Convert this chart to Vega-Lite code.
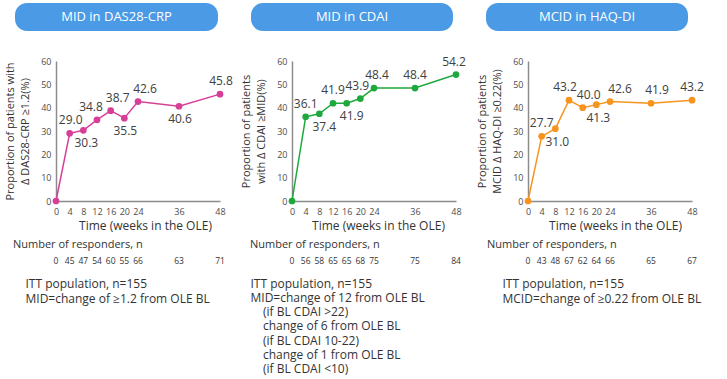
{
  "$schema": "https://vega.github.io/schema/vega-lite/v6.json",
  "padding": {"left": 4, "top": 3, "right": 4, "bottom": 4},
  "background": "white",
  "config": {
    "view": {"stroke": null},
    "font": "Open Sans",
    "axis": {"grid": false, "ticks": false, "domainColor": "#8c8c8c", "domainWidth": 1.5, "labelColor": "#4d4d4d", "labelFontSize": 9, "titleColor": "#333333", "titleFontWeight": "normal", "labelFont": "Open Sans", "titleFont": "Open Sans"},
    "title": {"fontWeight": "normal", "color": "#333333", "font": "Open Sans"}
  },
  "datasets": {
    "rows": [
      {"panel": "DAS", "week": 0, "pct": 0, "n": 0},
      {"panel": "DAS", "week": 4, "pct": 29.0, "n": 45},
      {"panel": "DAS", "week": 8, "pct": 30.3, "n": 47},
      {"panel": "DAS", "week": 12, "pct": 34.8, "n": 54},
      {"panel": "DAS", "week": 16, "pct": 38.7, "n": 60},
      {"panel": "DAS", "week": 20, "pct": 35.5, "n": 55},
      {"panel": "DAS", "week": 24, "pct": 42.6, "n": 66},
      {"panel": "DAS", "week": 36, "pct": 40.6, "n": 63},
      {"panel": "DAS", "week": 48, "pct": 45.8, "n": 71},
      {"panel": "CDAI", "week": 0, "pct": 0, "n": 0},
      {"panel": "CDAI", "week": 4, "pct": 36.1, "n": 56},
      {"panel": "CDAI", "week": 8, "pct": 37.4, "n": 58},
      {"panel": "CDAI", "week": 12, "pct": 41.9, "n": 65},
      {"panel": "CDAI", "week": 16, "pct": 41.9, "n": 65},
      {"panel": "CDAI", "week": 20, "pct": 43.9, "n": 68},
      {"panel": "CDAI", "week": 24, "pct": 48.4, "n": 75},
      {"panel": "CDAI", "week": 36, "pct": 48.4, "n": 75},
      {"panel": "CDAI", "week": 48, "pct": 54.2, "n": 84},
      {"panel": "HAQ", "week": 0, "pct": 0, "n": 0},
      {"panel": "HAQ", "week": 4, "pct": 27.7, "n": 43},
      {"panel": "HAQ", "week": 8, "pct": 31.0, "n": 48},
      {"panel": "HAQ", "week": 12, "pct": 43.2, "n": 67},
      {"panel": "HAQ", "week": 16, "pct": 40.0, "n": 62},
      {"panel": "HAQ", "week": 20, "pct": 41.3, "n": 64},
      {"panel": "HAQ", "week": 24, "pct": 42.6, "n": 66},
      {"panel": "HAQ", "week": 36, "pct": 41.9, "n": 65},
      {"panel": "HAQ", "week": 48, "pct": 43.2, "n": 67}
    ]
  },
  "spacing": 24,
  "vconcat": [
    {
      "spacing": 33,
      "bounds": "flush",
      "hconcat": [
        {"width": 203, "height": 28, "data": {"values": [{"label": "MID in DAS28-CRP"}]},
         "layer": [
           {"mark": {"type": "rect", "color": "#4a9ae6", "cornerRadius": 12}, "encoding": {}},
           {"mark": {"type": "text", "color": "white", "fontSize": 13}, "encoding": {"text": {"field": "label"}}}
         ]},
        {"width": 202, "height": 28, "data": {"values": [{"label": "MID in CDAI"}]},
         "layer": [
           {"mark": {"type": "rect", "color": "#4a9ae6", "cornerRadius": 12}, "encoding": {}},
           {"mark": {"type": "text", "color": "white", "fontSize": 13}, "encoding": {"text": {"field": "label"}}}
         ]},
        {"width": 202, "height": 28, "data": {"values": [{"label": "MCID in HAQ-DI"}]},
         "layer": [
           {"mark": {"type": "rect", "color": "#4a9ae6", "cornerRadius": 12}, "encoding": {}},
           {"mark": {"type": "text", "color": "white", "fontSize": 13}, "encoding": {"text": {"field": "label"}}}
         ]}
      ]
    },
    {
      "columns": 3,
      "spacing": {"row": 54, "column": 31},
      "bounds": "flush",
      "concat": [
        {
          "width": 205, "height": 140,
          "data": {"name": "rows"},
          "transform": [{"filter": "datum.panel == 'DAS'"}],
          "encoding": {
            "x": {"field": "week", "type": "quantitative", "scale": {"domain": [0, 48], "nice": false, "range": [41, 205]},
                  "axis": {"values": [0, 4, 8, 12, 16, 20, 24, 36, 48], "labelFlush": false, "title": "Time (weeks in the OLE)", "titleFontSize": 12, "labelPadding": 6, "titlePadding": 4, "titleX": 130}},
            "y": {"field": "pct", "type": "quantitative", "scale": {"domain": [0, 60], "nice": false},
                  "axis": {"offset": -41, "values": [0, 10, 20, 30, 40, 50, 60], "title": ["Proportion of patients with", "Δ DAS28-CRP ≥1.2(%)"], "titleFontSize": 11, "labelPadding": 5, "titlePadding": 10, "titleLineHeight": 15}}
          },
          "layer": [
            {"mark": {"type": "line", "color": "#d63f97", "strokeWidth": 1.5}},
            {"mark": {"type": "point", "filled": true, "size": 45, "opacity": 1, "color": "#d63f97"}},
            {"transform": [{"filter": "datum.week > 0"}],
             "mark": {"type": "text", "fontSize": 12, "color": "#404040",
                      "dy": {"expr": "indexof([8, 20, 36], datum.week) >= 0 ? 13 : -13"},
                      "dx": {"expr": "datum.week == 12 ? -6 : (datum.week == 16 || datum.week == 24) ? 7 : (datum.week == 8 ? 3 : 1)"}},
             "encoding": {"text": {"field": "pct", "format": ".1f"}}}
          ]
        },
        {
          "width": 205, "height": 140,
          "data": {"name": "rows"},
          "transform": [{"filter": "datum.panel == 'CDAI'"}],
          "encoding": {
            "x": {"field": "week", "type": "quantitative", "scale": {"domain": [0, 48], "nice": false, "range": [41, 205]},
                  "axis": {"values": [0, 4, 8, 12, 16, 20, 24, 36, 48], "labelFlush": false, "title": "Time (weeks in the OLE)", "titleFontSize": 12, "labelPadding": 6, "titlePadding": 4, "titleX": 127}},
            "y": {"field": "pct", "type": "quantitative", "scale": {"domain": [0, 60], "nice": false},
                  "axis": {"offset": -41, "values": [0, 10, 20, 30, 40, 50, 60], "title": ["Proportion of patients", "with Δ CDAI ≥MID(%)"], "titleFontSize": 11, "labelPadding": 5, "titlePadding": 10, "titleLineHeight": 15}}
          },
          "layer": [
            {"mark": {"type": "line", "color": "#1fa83c", "strokeWidth": 1.5}},
            {"mark": {"type": "point", "filled": true, "size": 45, "opacity": 1, "color": "#1fa83c"}},
            {"transform": [{"filter": "datum.week > 0"}],
             "mark": {"type": "text", "fontSize": 12, "color": "#404040",
                      "dy": {"expr": "indexof([8, 16], datum.week) >= 0 ? 13 : -13"},
                      "dx": {"expr": "indexof([8, 16], datum.week) >= 0 ? 5 : datum.week == 20 ? -3 : datum.week == 24 ? 3 : datum.week == 48 ? -2 : 0"}},
             "encoding": {"text": {"field": "pct", "format": ".1f"}}}
          ]
        },
        {
          "width": 205, "height": 140,
          "data": {"name": "rows"},
          "transform": [{"filter": "datum.panel == 'HAQ'"}],
          "encoding": {
            "x": {"field": "week", "type": "quantitative", "scale": {"domain": [0, 48], "nice": false, "range": [41, 205]},
                  "axis": {"values": [0, 4, 8, 12, 16, 20, 24, 36, 48], "labelFlush": false, "title": "Time (weeks in the OLE)", "titleFontSize": 12, "labelPadding": 6, "titlePadding": 4, "titleX": 128}},
            "y": {"field": "pct", "type": "quantitative", "scale": {"domain": [0, 60], "nice": false},
                  "axis": {"offset": -41, "values": [0, 10, 20, 30, 40, 50, 60], "title": ["Proportion of patients", "MCID Δ HAQ-DI ≥0.22(%)"], "titleFontSize": 11, "labelPadding": 5, "titlePadding": 10, "titleLineHeight": 15}}
          },
          "layer": [
            {"mark": {"type": "line", "color": "#f7941d", "strokeWidth": 1.5}},
            {"mark": {"type": "point", "filled": true, "size": 45, "opacity": 1, "color": "#f7941d"}},
            {"transform": [{"filter": "datum.week > 0"}],
             "mark": {"type": "text", "fontSize": 12, "color": "#404040",
                      "dy": {"expr": "indexof([8, 20], datum.week) >= 0 ? 13 : -13"},
                      "dx": {"expr": "datum.week == 12 ? -4 : datum.week == 16 ? 6 : datum.week == 24 ? 10 : datum.week == 36 ? 6 : (datum.week == 8 || datum.week == 20) ? 2 : 0"}},
             "encoding": {"text": {"field": "pct", "format": ".1f"}}}
          ]
        },
        {
          "width": 205, "height": 12,
          "data": {"name": "rows"},
          "transform": [{"filter": "datum.panel == 'DAS'"}],
          "title": {"text": "Number of responders, n", "anchor": "start", "frame": "group", "orient": "top", "dx": -2, "offset": 5, "fontSize": 11},
          "mark": {"type": "text", "fontSize": 8.5, "color": "#333333"},
          "encoding": {
            "x": {"field": "week", "type": "quantitative", "scale": {"domain": [0, 48], "nice": false, "range": [41, 205]},
                  "axis": {"domain": false, "labels": false, "ticks": false, "title": ["ITT population, n=155", "MID=change of ≥1.2 from OLE BL"], "titleAnchor": "start", "titleAlign": "left", "titleX": 10, "titleY": 11, "titleBaseline": "top", "titleFontSize": 12, "titleLineHeight": 15}},
            "text": {"field": "n"}
          }
        },
        {
          "width": 205, "height": 12,
          "data": {"name": "rows"},
          "transform": [{"filter": "datum.panel == 'CDAI'"}],
          "title": {"text": "Number of responders, n", "anchor": "start", "frame": "group", "orient": "top", "dx": -1, "offset": 5, "fontSize": 11},
          "mark": {"type": "text", "fontSize": 8.5, "color": "#333333"},
          "encoding": {
            "x": {"field": "week", "type": "quantitative", "scale": {"domain": [0, 48], "nice": false, "range": [41, 205]},
                  "axis": {"domain": false, "labels": false, "ticks": false, "title": ["ITT population, n=155", "MID=change of 12 from OLE BL", "\u200b\u00a0\u00a0\u00a0\u00a0(if BL CDAI >22)", "\u200b\u00a0\u00a0\u00a0\u00a0change of 6 from OLE BL", "\u200b\u00a0\u00a0\u00a0\u00a0(if BL CDAI 10-22)", "\u200b\u00a0\u00a0\u00a0\u00a0change of 1 from OLE BL", "\u200b\u00a0\u00a0\u00a0\u00a0(if BL CDAI <10)"], "titleAnchor": "start", "titleAlign": "left", "titleX": -1, "titleY": 11, "titleBaseline": "top", "titleFontSize": 12, "titleLineHeight": 14.3}},
            "text": {"field": "n"}
          }
        },
        {
          "width": 205, "height": 12,
          "data": {"name": "rows"},
          "transform": [{"filter": "datum.panel == 'HAQ'"}],
          "title": {"text": "Number of responders, n", "anchor": "start", "frame": "group", "orient": "top", "dx": 0, "offset": 5, "fontSize": 11},
          "mark": {"type": "text", "fontSize": 8.5, "color": "#333333"},
          "encoding": {
            "x": {"field": "week", "type": "quantitative", "scale": {"domain": [0, 48], "nice": false, "range": [41, 205]},
                  "axis": {"domain": false, "labels": false, "ticks": false, "title": ["ITT population, n=155", "MCID=change of ≥0.22 from OLE BL"], "titleAnchor": "start", "titleAlign": "left", "titleX": 15, "titleY": 11, "titleBaseline": "top", "titleFontSize": 12, "titleLineHeight": 15}},
            "text": {"field": "n"}
          }
        }
      ]
    }
  ]
}
